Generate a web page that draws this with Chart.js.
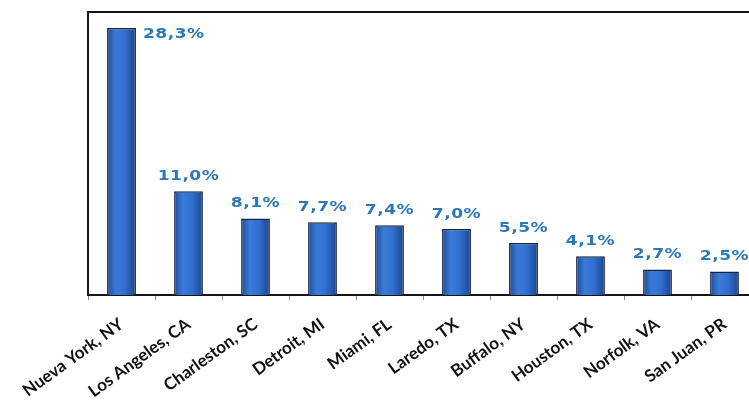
<!DOCTYPE html>
<html>
<head>
<meta charset="utf-8">
<script src="https://cdn.jsdelivr.net/npm/chart.js@4/dist/chart.umd.min.js"></script>
<style>
  html, body { margin: 0; padding: 0; background: #fff; overflow: hidden; }
  #wrap { position: relative; width: 760px; height: 402px; }
</style>
</head>
<body>
<div id="wrap"><canvas id="portsChart"></canvas></div>
<script>
const ports = ["Nueva York, NY", "Los Angeles, CA", "Charleston, SC", "Detroit, MI", "Miami, FL",
               "Laredo, TX", "Buffalo, NY", "Houston, TX", "Norfolk, VA", "San Juan, PR"];
const shares = [28.3, 11.0, 8.1, 7.7, 7.4, 7.0, 5.5, 4.1, 2.7, 2.5];
const yMax = 30;

const BAR_PCT = 0.43;

// horizontal shading across each bar
function barFill(ctx) {
  const chart = ctx.chart;
  const xs = chart.scales.x;
  if (!xs || ctx.dataIndex === undefined) return "#2f6fcf";
  const cx = xs.getPixelForValue(ctx.dataIndex);
  const w = (xs.width / ports.length) * BAR_PCT;
  if (!isFinite(cx) || !isFinite(w) || w <= 0) return "#2f6fcf";
  const g = chart.ctx.createLinearGradient(cx - w / 2, 0, cx + w / 2, 0);
  g.addColorStop(0, "#1d4c9c");
  g.addColorStop(0.3, "#3a7ad8");
  g.addColorStop(0.6, "#3270d0");
  g.addColorStop(1, "#1b458e");
  return g;
}

// wide bold percentages above the bars
const valueLabels = {
  id: "valueLabels",
  afterDatasetsDraw(chart) {
    const { ctx, chartArea } = chart;
    const meta = chart.getDatasetMeta(0);
    const stretch = 1.22;
    ctx.save();
    ctx.font = "bold 14px 'DejaVu Sans'";
    ctx.letterSpacing = "0.4px";
    ctx.fillStyle = "#2b78b8";
    ctx.textBaseline = "middle";
    meta.data.forEach((bar, i) => {
      const txt = shares[i].toFixed(1).replace(".", ",") + "%";
      ctx.save();
      if (bar.y - 26 < chartArea.top) {
        ctx.translate(bar.x + bar.width / 2 + 7, bar.y + 6);
        ctx.scale(stretch, 1);
        ctx.textAlign = "left";
      } else {
        ctx.translate(bar.x, bar.y - 15);
        ctx.scale(stretch, 1);
        ctx.textAlign = "center";
      }
      ctx.fillText(txt, 0, 0);
      ctx.restore();
    });
    ctx.restore();
  }
};

// frame on the left and top of the plot
const plotFrame = {
  id: "plotFrame",
  afterDraw(chart) {
    const { ctx, chartArea } = chart;
    ctx.save();
    ctx.strokeStyle = "#161616";
    ctx.lineWidth = 2;
    ctx.beginPath();
    ctx.moveTo(chartArea.left, chartArea.bottom);
    ctx.lineTo(chartArea.left, chartArea.top);
    ctx.lineTo(chart.width, chartArea.top);
    ctx.stroke();
    ctx.restore();
  }
};

const chart = new Chart(document.getElementById("portsChart"), {
  type: "bar",
  data: {
    labels: ports,
    datasets: [{
      data: shares,
      backgroundColor: barFill,
      borderColor: "#18233c",
      borderWidth: 1.5,
      barPercentage: BAR_PCT,
      categoryPercentage: 1
    }]
  },
  options: {
    responsive: true,
    maintainAspectRatio: false,
    animation: false,
    layout: { padding: { left: 88, top: 12, right: 2, bottom: 0 } },
    plugins: {
      legend: { display: false },
      tooltip: { enabled: false }
    },
    scales: {
      x: {
        offset: true,
        grid: { display: true, drawOnChartArea: false, offset: true, tickLength: 5, color: "#8a8a8a" },
        border: { color: "#161616", width: 2 },
        ticks: {
          maxRotation: 36,
          minRotation: 36,
          padding: 14,
          color: "#111",
          font: { family: "Lato", size: 17, weight: "bold" }
        },
        afterFit(scale) { scale.height = 107; }
      },
      y: {
        display: false,
        min: 0,
        max: yMax
      }
    }
  },
  plugins: [valueLabels, plotFrame]
});
// second pass so the bar shading picks up the laid-out scale
chart.update();
</script>
</body>
</html>
